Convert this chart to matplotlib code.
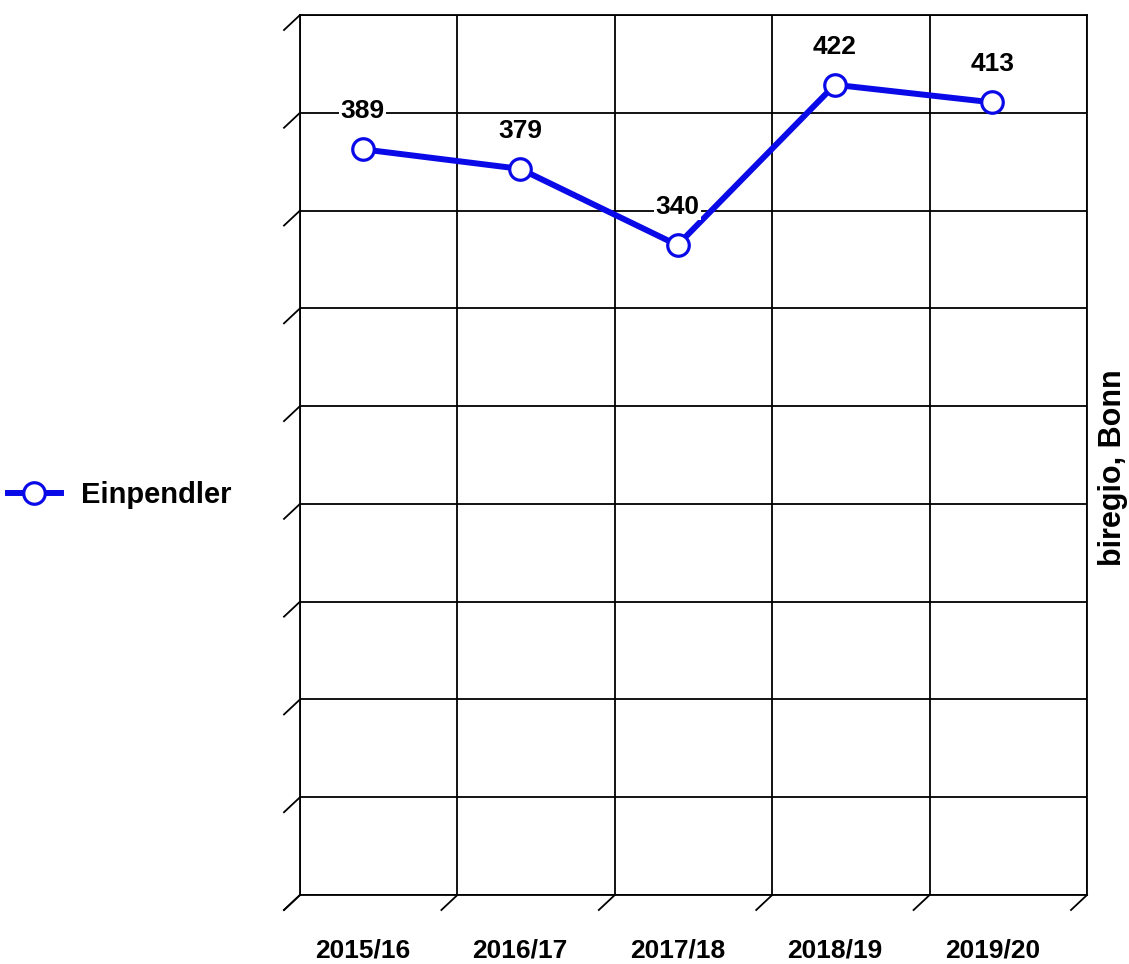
import numpy as np
import matplotlib
matplotlib.use("Agg")
import matplotlib.pyplot as plt
import matplotlib.transforms as mtransforms
from matplotlib.lines import Line2D

plt.rcParams['font.family'] = ['Liberation Sans', 'DejaVu Sans']
plt.rcParams['font.weight'] = 'bold'

# data
years = ["2015/16", "2016/17", "2017/18", "2018/19", "2019/20"]
einpendler = [389, 379, 340, 422, 413]
y_ticks = list(range(0, 451, 50))

blue = '#0a0ae8'
W, H = 1129, 964
fig = plt.figure(figsize=(W / 100, H / 100), dpi=100)
# back wall of the pseudo-3d chart
ax = fig.add_axes([300 / W, (H - 895) / H, 787 / W, 880 / H])
ax.set_xlim(0, len(years))
ax.set_ylim(0, 450)
ax.set_xticks(range(len(years) + 1))
ax.set_yticks(y_ticks)
ax.grid(True, color='black', lw=1.3)
ax.tick_params(length=0, labelbottom=False, labelleft=False)
for s in ax.spines.values():
    s.set_linewidth(1.3)

# front plane: shifted left/down
dx_px, dy_px = -16, -15
front = mtransforms.offset_copy(ax.transData, fig=fig, x=dx_px, y=dy_px, units='dots')
ddx = dx_px / (787 / len(years))
ddy = dy_px / (880 / 450)

# depth lines
for y in y_ticks:
    ax.plot([0, ddx], [y, y + ddy], color='black', lw=1.3, clip_on=False)
for x in range(len(years) + 1):
    ax.plot([x, x + ddx], [0, ddy], color='black', lw=1.3, clip_on=False)

xs = np.arange(len(years)) + 0.5
ax.plot(xs, einpendler, color=blue, lw=4.3, marker='o', ms=15.5, mfc='white',
        mec=blue, mew=2.3, transform=front, clip_on=False, zorder=5)

for x, v in zip(xs, einpendler):
    ax.annotate(str(v), xy=(x, v), xycoords=front, xytext=(0, 38),
                textcoords='offset pixels', ha='center', va='center',
                fontsize=19, fontweight='bold', zorder=6,
                bbox=dict(boxstyle='square,pad=0.05', fc='white', ec='none'))

for x, lab in zip(xs, years):
    ax.annotate(lab, xy=(x, 0), xycoords=front, xytext=(0, -40),
                textcoords='offset pixels', ha='center', va='center',
                fontsize=19, fontweight='bold')

handle = Line2D([], [], color=blue, lw=4.3, marker='o', ms=15.5, mfc='white',
                mec=blue, mew=2.3)
fig.legend([handle], ["Einpendler"], loc='center left',
           bbox_to_anchor=(8 / W, 1 - 495 / H), frameon=False,
           prop={'size': 21, 'weight': 'bold'}, handlelength=1.8,
           handletextpad=0.7, borderaxespad=0, borderpad=0)

fig.text(1113 / W, 1 - 468 / H, "biregio, Bonn", rotation=90, ha='center',
         va='center', fontsize=22, fontweight='bold')

fig.savefig("out.png", dpi=100)
